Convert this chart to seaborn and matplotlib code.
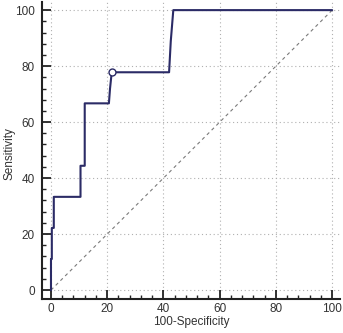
import matplotlib
matplotlib.use("Agg")
import matplotlib.pyplot as plt
import pandas as pd
import seaborn as sns
from matplotlib.ticker import MultipleLocator

# ROC 曲线坐标 (100-特异度, 灵敏度)
fpr = [0, 0, 0.3, 0.3, 1.0, 1.0, 10.5, 10.5, 12.0, 12.0, 20.6, 21.0, 21.6, 42.0, 42.6, 43.5, 100]
tpr = [0, 11.1, 11.1, 22.2, 22.2, 33.3, 33.3, 44.4, 44.4, 66.7, 66.7, 72.0, 77.8, 77.8, 88.9, 100, 100]

# 最佳截断点
cut_x = [21.6]
cut_y = [77.8]

ticks = [0, 20, 40, 60, 80, 100]

roc_df = pd.DataFrame({"100-Specificity": fpr, "Sensitivity": tpr})

sns.set_theme(style="white")
plt.rcParams["font.family"] = ["Liberation Sans", "DejaVu Sans"]

fig = plt.figure(figsize=(3.43, 3.33), dpi=100)
ax = fig.add_axes([0.1224, 0.102, 0.869, 0.892])

# 网格线
for t in ticks:
    ax.axhline(t, color="#b0b0b0", linestyle=(0, (1, 2.5)), linewidth=0.8, zorder=0)
    ax.axvline(t, color="#b0b0b0", linestyle=(0, (1, 2.5)), linewidth=0.8, zorder=0)

# 对角参考线
ax.plot([0, 100], [0, 100], color="#7a7a7a", linestyle=(0, (3, 3)), linewidth=0.8, zorder=1)

sns.lineplot(data=roc_df, x="100-Specificity", y="Sensitivity", sort=False,
             estimator=None, color="#2b2b66", linewidth=1.5, ax=ax, zorder=3)
ax.plot(cut_x, cut_y, marker="o", markersize=5, markerfacecolor="white",
        markeredgecolor="#2b2b66", markeredgewidth=1.0, linestyle="none", zorder=4)

ax.set_xlim(-3.2, 102.8)
ax.set_ylim(-3.2, 102.9)
ax.set_xticks(ticks)
ax.set_yticks(ticks)
ax.xaxis.set_minor_locator(MultipleLocator(4))
ax.yaxis.set_minor_locator(MultipleLocator(4))
ax.tick_params(which="major", direction="in", length=6.5, width=1.3, color="#222222",
               labelsize=8.5, labelcolor="#333333")
ax.tick_params(which="minor", direction="in", length=3, width=1.0, color="#222222")
ax.tick_params(axis="x", which="both", bottom=True, pad=3)
ax.tick_params(axis="y", which="both", left=True, pad=5)

for side in ["top", "right"]:
    ax.spines[side].set_visible(False)
for side in ["left", "bottom"]:
    ax.spines[side].set_color("#222222")
    ax.spines[side].set_linewidth(1.5)

ax.set_xlabel("100-Specificity", fontsize=8.5, color="#333333")
ax.set_ylabel("Sensitivity", fontsize=8.5, color="#333333")
ax.xaxis.set_label_coords(0.5, -0.058)
ax.yaxis.set_label_coords(-0.088, 0.49)

fig.savefig("out.png", dpi=100)
